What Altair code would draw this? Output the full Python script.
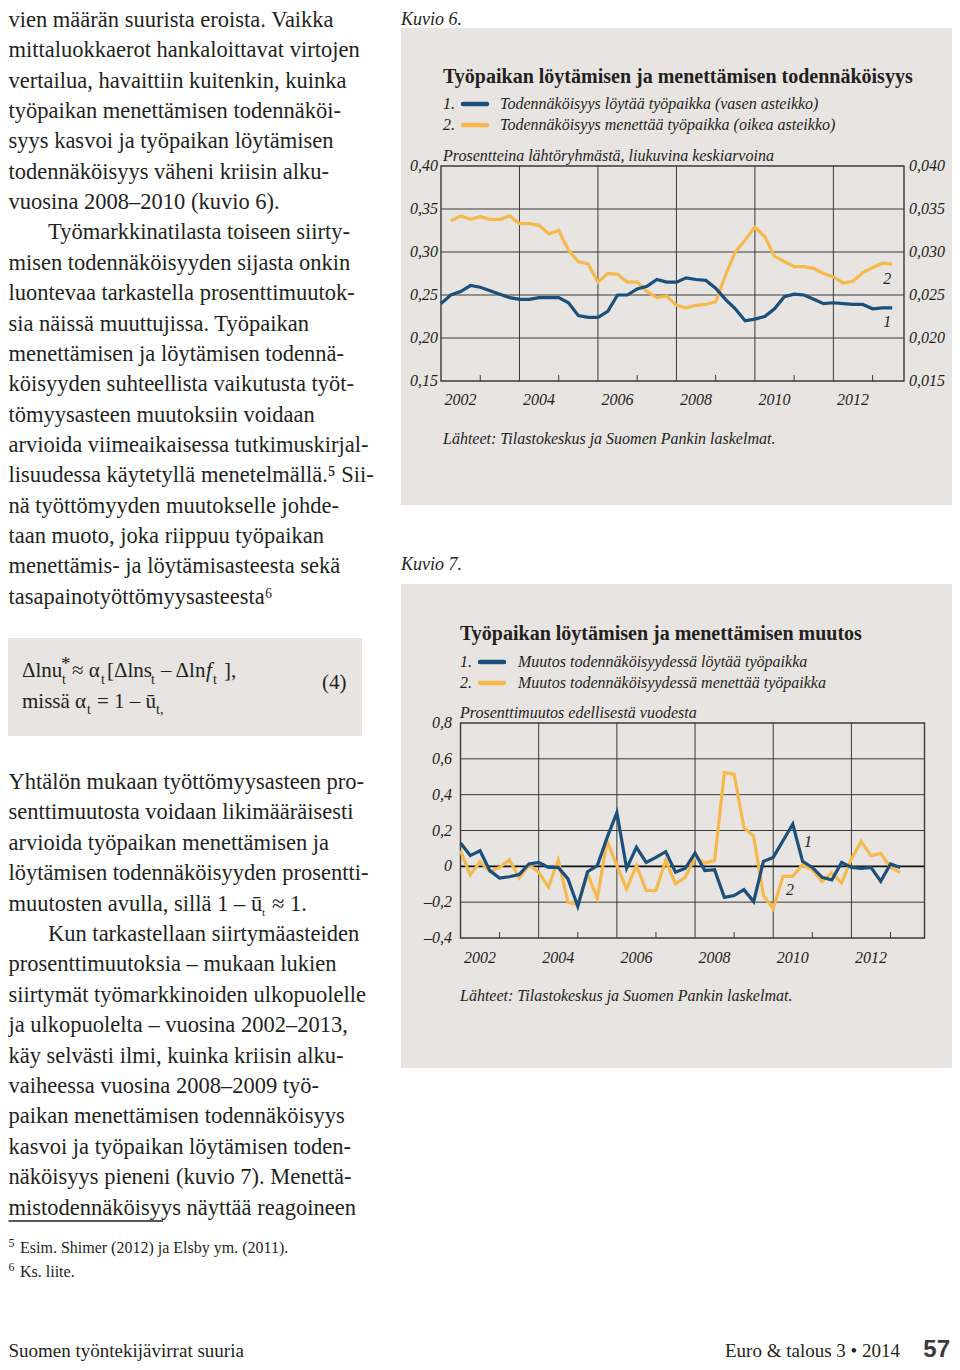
import altair as alt
import pandas as pd

# ---------------- data ----------------
# quarterly time index (2002Q1 = 2002.0, 2002Q2 = 2002.25, ...)
quarter_pos = [y + q / 4 for y in range(2002, 2014) for q in range(4)]

# Kuvio 6: probability of finding a job (left scale), 2002Q1-2013Q3
find_prob = [0.240, 0.250, 0.254, 0.261, 0.259, 0.255, 0.251, 0.247, 0.245, 0.245,
             0.247, 0.247, 0.247, 0.241, 0.226, 0.224, 0.224, 0.231, 0.250, 0.250,
             0.257, 0.260, 0.268, 0.265, 0.265, 0.270, 0.268, 0.267, 0.258, 0.245,
             0.234, 0.220, 0.222, 0.225, 0.234, 0.248, 0.251, 0.250, 0.245, 0.240,
             0.241, 0.240, 0.239, 0.239, 0.234, 0.235, 0.235]
# Kuvio 6: probability of losing a job (right scale), 2002Q2-2013Q3
lose_prob = [0.0336, 0.0342, 0.0338, 0.0341, 0.0338, 0.0338, 0.0342, 0.0333, 0.0333, 0.0331,
             0.0321, 0.0325, 0.0302, 0.0289, 0.0286, 0.0265, 0.0275, 0.0274, 0.0265, 0.0265,
             0.0254, 0.0247, 0.0249, 0.0238, 0.0235, 0.0238, 0.0239, 0.0242, 0.0273, 0.0300,
             0.0314, 0.0329, 0.0318, 0.0295, 0.0289, 0.0283, 0.0283, 0.0281, 0.0275, 0.0271,
             0.0264, 0.0266, 0.0276, 0.0282, 0.0287, 0.0286]
# Kuvio 7: change in finding probability, 2002Q1-2013Q2
find_chg = [0.13, 0.06, 0.087, -0.024, -0.065, -0.058, -0.046, 0.013, 0.022, -0.006,
            -0.006, -0.07, -0.223, -0.03, 0.004, 0.16, 0.30, -0.011, 0.106, 0.022,
            0.05, 0.082, -0.033, -0.011, 0.074, -0.024, -0.019, -0.173, -0.163, -0.13,
            -0.197, 0.028, 0.05, 0.143, 0.236, 0.028, -0.006, -0.061, -0.076, 0.022,
            -0.006, -0.011, -0.006, -0.083, 0.013, -0.006]
# Kuvio 7: change in losing probability, 2002Q1-2013Q2
lose_chg = [0.087, -0.048, 0.026, -0.03, -0.006, 0.037, -0.065, 0.009, -0.033, -0.117,
            0.035, -0.2, -0.215, -0.043, -0.178, 0.143, 0.004, -0.126, 0.004, -0.135,
            -0.135, 0.032, -0.098, -0.061, 0.05, 0.019, 0.032, 0.523, 0.514, 0.217,
            0.167, -0.163, -0.237, -0.056, -0.056, 0.009, -0.02, -0.085, -0.037, -0.093,
            0.041, 0.139, 0.059, 0.072, -0.006, -0.033]

grid_years = [2004, 2006, 2008, 2010, 2012]
minor_years = [2003, 2005, 2007, 2009, 2011, 2013]
year_labels = ["2002", "2004", "2006", "2008", "2010", "2012"]

c1_left_vals = [0.15, 0.20, 0.25, 0.30, 0.35, 0.40]
c1_left_labels = ["0,15", "0,20", "0,25", "0,30", "0,35", "0,40"]
c1_right_vals = [0.015, 0.020, 0.025, 0.030, 0.035, 0.040]
c1_right_labels = ["0,015", "0,020", "0,025", "0,030", "0,035", "0,040"]
c2_vals = [-0.4, -0.2, 0.0, 0.2, 0.4, 0.6, 0.8]
c2_labels = ["\u20130,4", "\u20130,2", "0", "0,2", "0,4", "0,6", "0,8"]

body1 = [
    "vien määrän suurista eroista. Vaikka",
    "mittaluokkaerot hankaloittavat virtojen",
    "vertailua, havaittiin kuitenkin, kuinka",
    "työpaikan menettämisen todennäköi-",
    "syys kasvoi ja työpaikan löytämisen",
    "todennäköisyys väheni kriisin alku-",
    "vuosina 2008\u20132010 (kuvio 6).",
    "Työmarkkinatilasta toiseen siirty-",
    "misen todennäköisyyden sijasta onkin",
    "luontevaa tarkastella prosenttimuutok-",
    "sia näissä muuttujissa. Työpaikan",
    "menettämisen ja löytämisen todennä-",
    "köisyyden suhteellista vaikutusta työt-",
    "tömyysasteen muutoksiin voidaan",
    "arvioida viimeaikaisessa tutkimuskirjal-",
    "lisuudessa käytetyllä menetelmällä.\u2075 Sii-",
    "nä työttömyyden muutokselle johde-",
    "taan muoto, joka riippuu työpaikan",
    "menettämis- ja löytämisasteesta sekä",
    "tasapainotyöttömyysasteesta\u2076",
]
body2 = [
    "Yhtälön mukaan työttömyysasteen pro-",
    "senttimuutosta voidaan likimääräisesti",
    "arvioida työpaikan menettämisen ja",
    "löytämisen todennäköisyyden prosentti-",
    "muutosten avulla, sillä 1 \u2013 ū",
    "Kun tarkastellaan siirtymäasteiden",
    "prosenttimuutoksia \u2013 mukaan lukien",
    "siirtymät työmarkkinoiden ulkopuolelle",
    "ja ulkopuolelta \u2013 vuosina 2002\u20132013,",
    "käy selvästi ilmi, kuinka kriisin alku-",
    "vaiheessa vuosina 2008\u20132009 työ-",
    "paikan menettämisen todennäköisyys",
    "kasvoi ja työpaikan löytämisen toden-",
    "näköisyys pieneni (kuvio 7). Menettä-",
    "mistodennäköisyys näyttää reagoineen",
]
indented = {"Työmarkkinatilasta toiseen siirty-", "Kun tarkastellaan siirtymäasteiden"}

# ---------------- style ----------------
PANEL = "#e7e4e1"
INK = "#231f20"
GRID = "#3a3a3a"
BLUE = "#1b4f7c"
ORANGE = "#f6b94c"
SERIF = "Liberation Serif"
LEFT = 8.5  # left text edge (page margin)

W, H = 944, 1354
def px(x):
    return x - 8
def py(y):
    return y - 8

PXX = alt.Scale(domain=[8, 952], range=[0, 944], nice=False, zero=False)
PXY = alt.Scale(domain=[8, 1362], range=[0, 1354], nice=False, zero=False)

X1 = alt.Scale(domain=[2002, 2013.8], range=[px(441), px(904)], nice=False, zero=False)
Y1L = alt.Scale(domain=[0.15, 0.40], range=[py(381), py(166)], nice=False, zero=False)
Y1R = alt.Scale(domain=[0.015, 0.040], range=[py(381), py(166)], nice=False, zero=False)
X2 = alt.Scale(domain=[2002, 2013.87], range=[px(460.5), px(924.5)], nice=False, zero=False)
Y2 = alt.Scale(domain=[-0.4, 0.8], range=[py(938), py(723)], nice=False, zero=False)

ONE = alt.Data(values=[{"a": 1}])
layers = []


def txt(rows, **kw):
    df = pd.DataFrame(rows, columns=["x", "y", "text"])
    base = dict(font=SERIF, color=INK, align="left", baseline="middle", fontSize=16)
    base.update(kw)
    return alt.Chart(df).mark_text(**base).encode(
        x=alt.X("x:Q", scale=PXX, axis=None),
        y=alt.Y("y:Q", scale=PXY, axis=None),
        text="text:N",
    )


# ---------------- backgrounds ----------------
bg = pd.DataFrame({"x": [401, 401, 8], "x2": [957, 957, 362],
                   "y": [28, 584, 638], "y2": [505, 1068, 736]})
layers.append(alt.Chart(bg).mark_rect(color=PANEL).encode(
    x=alt.X("x:Q", scale=PXX, axis=None), x2="x2:Q",
    y=alt.Y("y:Q", scale=PXY, axis=None), y2="y2:Q"))

# ---------------- left column text ----------------
rows = []
for i, line in enumerate(body1):
    rows.append((48 if line in indented else LEFT, 20 + i * 30.35, line))
for i, line in enumerate(body2):
    rows.append((48 if line in indented else LEFT, 782 + i * 30.4, line))
layers.append(txt(rows, fontSize=22.5))
layers.append(txt([(262, 782 + 4 * 30.4 + 9, "t")], fontSize=11))
layers.append(txt([(272, 782 + 4 * 30.4, "\u2248 1.")], fontSize=22.5))

# equation
layers.append(txt([(22, 671, "Δlnu"), (72, 671, "\u2248 α"), (107, 671, "[Δlns"),
                   (161, 671, "\u2013 Δln"), (224, 671, "],"),
                   (22, 702, "missä α"), (97, 702, "= 1 \u2013 ū"), (322, 683, "(4)")],
                  fontSize=21))
layers.append(txt([(206, 671, "f")], fontSize=21, fontStyle="italic"))
layers.append(txt([(62, 680, "t"), (101, 680, "t"), (151, 680, "t"), (213, 680, "t"),
                   (87, 710, "t"), (156, 710, "t,")], fontSize=14))
layers.append(txt([(61, 664, "*")], fontSize=19))

# footnotes
layers.append(alt.Chart(ONE).mark_rule(color=INK, strokeWidth=1.3).encode(
    x=alt.value(px(LEFT)), x2=alt.value(px(163)), y=alt.value(py(1221))))
layers.append(txt([(LEFT, 1243, "5"), (LEFT, 1267, "6")], fontSize=12))
layers.append(txt([(20, 1248, "Esim. Shimer (2012) ja Elsby ym. (2011)."),
                   (20, 1272, "Ks. liite.")], fontSize=16))

# page footer
layers.append(txt([(LEFT, 1357, "Suomen työntekijävirrat suuria")], fontSize=19,
                  baseline="alphabetic"))
layers.append(txt([(900, 1357, "Euro & talous 3 \u2022 2014")], fontSize=19, align="right",
                  baseline="alphabetic"))
layers.append(txt([(950, 1357, "57")], fontSize=24, align="right", font="Liberation Sans",
                  fontWeight="bold", color="#3a3a3a", baseline="alphabetic"))

# ---------------- titles / legends ----------------
layers.append(txt([(401, 19.5, "Kuvio 6."), (401, 565, "Kuvio 7.")], fontSize=18, fontStyle="italic"))
layers.append(txt([(443, 77, "Työpaikan löytämisen ja menettämisen todennäköisyys"),
                   (460, 634, "Työpaikan löytämisen ja menettämisen muutos")],
                  fontSize=20, fontWeight="bold"))
layers.append(txt([(443, 104, "1."), (443, 125, "2."),
                   (500, 104, "Todennäköisyys löytää työpaikka (vasen asteikko)"),
                   (500, 125, "Todennäköisyys menettää työpaikka (oikea asteikko)"),
                   (443, 156, "Prosentteina lähtöryhmästä, liukuvina keskiarvoina"),
                   (443, 439, "Lähteet: Tilastokeskus ja Suomen Pankin laskelmat."),
                   (460, 662, "1."), (460, 683, "2."),
                   (518, 662, "Muutos todennäköisyydessä löytää työpaikka"),
                   (518, 683, "Muutos todennäköisyydessä menettää työpaikka"),
                   (460, 713, "Prosenttimuutos edellisestä vuodesta"),
                   (460, 996, "Lähteet: Tilastokeskus ja Suomen Pankin laskelmat.")],
                  fontSize=16, fontStyle="italic"))
for (x0, x1, yy, col) in [(463, 487, 104, BLUE), (463, 487, 125, ORANGE),
                          (480, 504, 662, BLUE), (480, 504, 683, ORANGE)]:
    layers.append(alt.Chart(ONE).mark_rule(color=col, strokeWidth=4.5, strokeCap="round").encode(
        x=alt.value(px(x0)), x2=alt.value(px(x1)), y=alt.value(py(yy))))


def panel(XS, YS, x_left, x_right, y_top, y_bot, hvals, t_end, v_lo, v_hi, zero_line=False):
    out = []
    out.append(alt.Chart(pd.DataFrame({"t": grid_years})).mark_rule(color=GRID, strokeWidth=1).encode(
        x=alt.X("t:Q", scale=XS, axis=None), y=alt.value(py(y_top)), y2=alt.value(py(y_bot))))
    out.append(alt.Chart(pd.DataFrame({"v": hvals})).mark_rule(color=GRID, strokeWidth=1).encode(
        y=alt.Y("v:Q", scale=YS, axis=None), x=alt.value(px(x_left)), x2=alt.value(px(x_right))))
    out.append(alt.Chart(pd.DataFrame({"t": minor_years})).mark_rule(color=GRID, strokeWidth=1).encode(
        x=alt.X("t:Q", scale=XS, axis=None), y=alt.value(py(y_bot)), y2=alt.value(py(y_bot - 6))))
    if zero_line:
        out.append(alt.Chart(pd.DataFrame({"v": [0.0]})).mark_rule(color="#111111", strokeWidth=1.8).encode(
            y=alt.Y("v:Q", scale=YS, axis=None), x=alt.value(px(x_left)), x2=alt.value(px(x_right))))
    frame = pd.DataFrame({"t0": [2002], "t1": [t_end], "v0": [v_lo], "v1": [v_hi]})
    out.append(alt.Chart(frame).mark_rect(filled=False, stroke=GRID, strokeWidth=1.4).encode(
        x=alt.X("t0:Q", scale=XS, axis=None), x2="t1:Q",
        y=alt.Y("v0:Q", scale=YS, axis=None), y2="v1:Q"))
    return out


# ---------------- Kuvio 6 ----------------
layers += panel(X1, Y1L, 441, 904, 166, 381, [0.20, 0.25, 0.30, 0.35], 2013.8, 0.15, 0.40)

df_find = pd.DataFrame({"t": quarter_pos[:len(find_prob)], "v": find_prob})
df_lose = pd.DataFrame({"t": quarter_pos[1:1 + len(lose_prob)], "v": lose_prob})
layers.append(alt.Chart(df_lose).mark_line(color=ORANGE, strokeWidth=3.2).encode(
    x=alt.X("t:Q", scale=X1, axis=None), y=alt.Y("v:Q", scale=Y1R, axis=None)))
layers.append(alt.Chart(df_find).mark_line(color=BLUE, strokeWidth=3.2).encode(
    x=alt.X("t:Q", scale=X1, axis=None), y=alt.Y("v:Q", scale=Y1L, axis=None)))

ax_style = dict(font=SERIF, color=INK, fontSize=16, fontStyle="italic", baseline="middle")
layers.append(alt.Chart(pd.DataFrame({"v": c1_left_vals, "lab": c1_left_labels})).mark_text(
    align="right", **ax_style).encode(
    y=alt.Y("v:Q", scale=Y1L, axis=None), x=alt.value(px(438)), text="lab:N"))
layers.append(alt.Chart(pd.DataFrame({"v": c1_right_vals, "lab": c1_right_labels})).mark_text(
    align="left", **ax_style).encode(
    y=alt.Y("v:Q", scale=Y1R, axis=None), x=alt.value(px(909)), text="lab:N"))
year_mid = [int(s) + 0.5 for s in year_labels]
layers.append(alt.Chart(pd.DataFrame({"t": year_mid, "lab": year_labels})).mark_text(
    align="center", **ax_style).encode(
    x=alt.X("t:Q", scale=X1, axis=None), y=alt.value(py(400)), text="lab:N"))
layers.append(alt.Chart(pd.DataFrame({"t": [2013.37, 2013.37], "v": [0.2686, 0.2186], "lab": ["2", "1"]})).mark_text(
    align="center", **ax_style).encode(
    x=alt.X("t:Q", scale=X1, axis=None), y=alt.Y("v:Q", scale=Y1L, axis=None), text="lab:N"))

# ---------------- Kuvio 7 ----------------
layers += panel(X2, Y2, 460.5, 924.5, 723, 938, [-0.2, 0.2, 0.4, 0.6], 2013.87, -0.4, 0.8,
                zero_line=True)
df_fc = pd.DataFrame({"t": quarter_pos[:len(find_chg)], "v": find_chg})
df_lc = pd.DataFrame({"t": quarter_pos[:len(lose_chg)], "v": lose_chg})
layers.append(alt.Chart(df_lc).mark_line(color=ORANGE, strokeWidth=3.2).encode(
    x=alt.X("t:Q", scale=X2, axis=None), y=alt.Y("v:Q", scale=Y2, axis=None)))
layers.append(alt.Chart(df_fc).mark_line(color=BLUE, strokeWidth=3.2).encode(
    x=alt.X("t:Q", scale=X2, axis=None), y=alt.Y("v:Q", scale=Y2, axis=None)))
layers.append(alt.Chart(pd.DataFrame({"v": c2_vals, "lab": c2_labels})).mark_text(
    align="right", **ax_style).encode(
    y=alt.Y("v:Q", scale=Y2, axis=None), x=alt.value(px(452)), text="lab:N"))
layers.append(alt.Chart(pd.DataFrame({"t": year_mid, "lab": year_labels})).mark_text(
    align="center", **ax_style).encode(
    x=alt.X("t:Q", scale=X2, axis=None), y=alt.value(py(958)), text="lab:N"))
layers.append(alt.Chart(pd.DataFrame({"t": [2010.89, 2010.43], "v": [0.136, -0.132], "lab": ["1", "2"]})).mark_text(
    align="center", **ax_style).encode(
    x=alt.X("t:Q", scale=X2, axis=None), y=alt.Y("v:Q", scale=Y2, axis=None), text="lab:N"))

chart = alt.layer(*layers).resolve_scale(x="independent", y="independent").properties(
    width=W, height=H, autosize=alt.AutoSizeParams(type="none"), padding=0,
    background="white",
).configure_view(strokeWidth=0)

chart.save("out.html", embed_options={"renderer": "svg", "actions": False})
